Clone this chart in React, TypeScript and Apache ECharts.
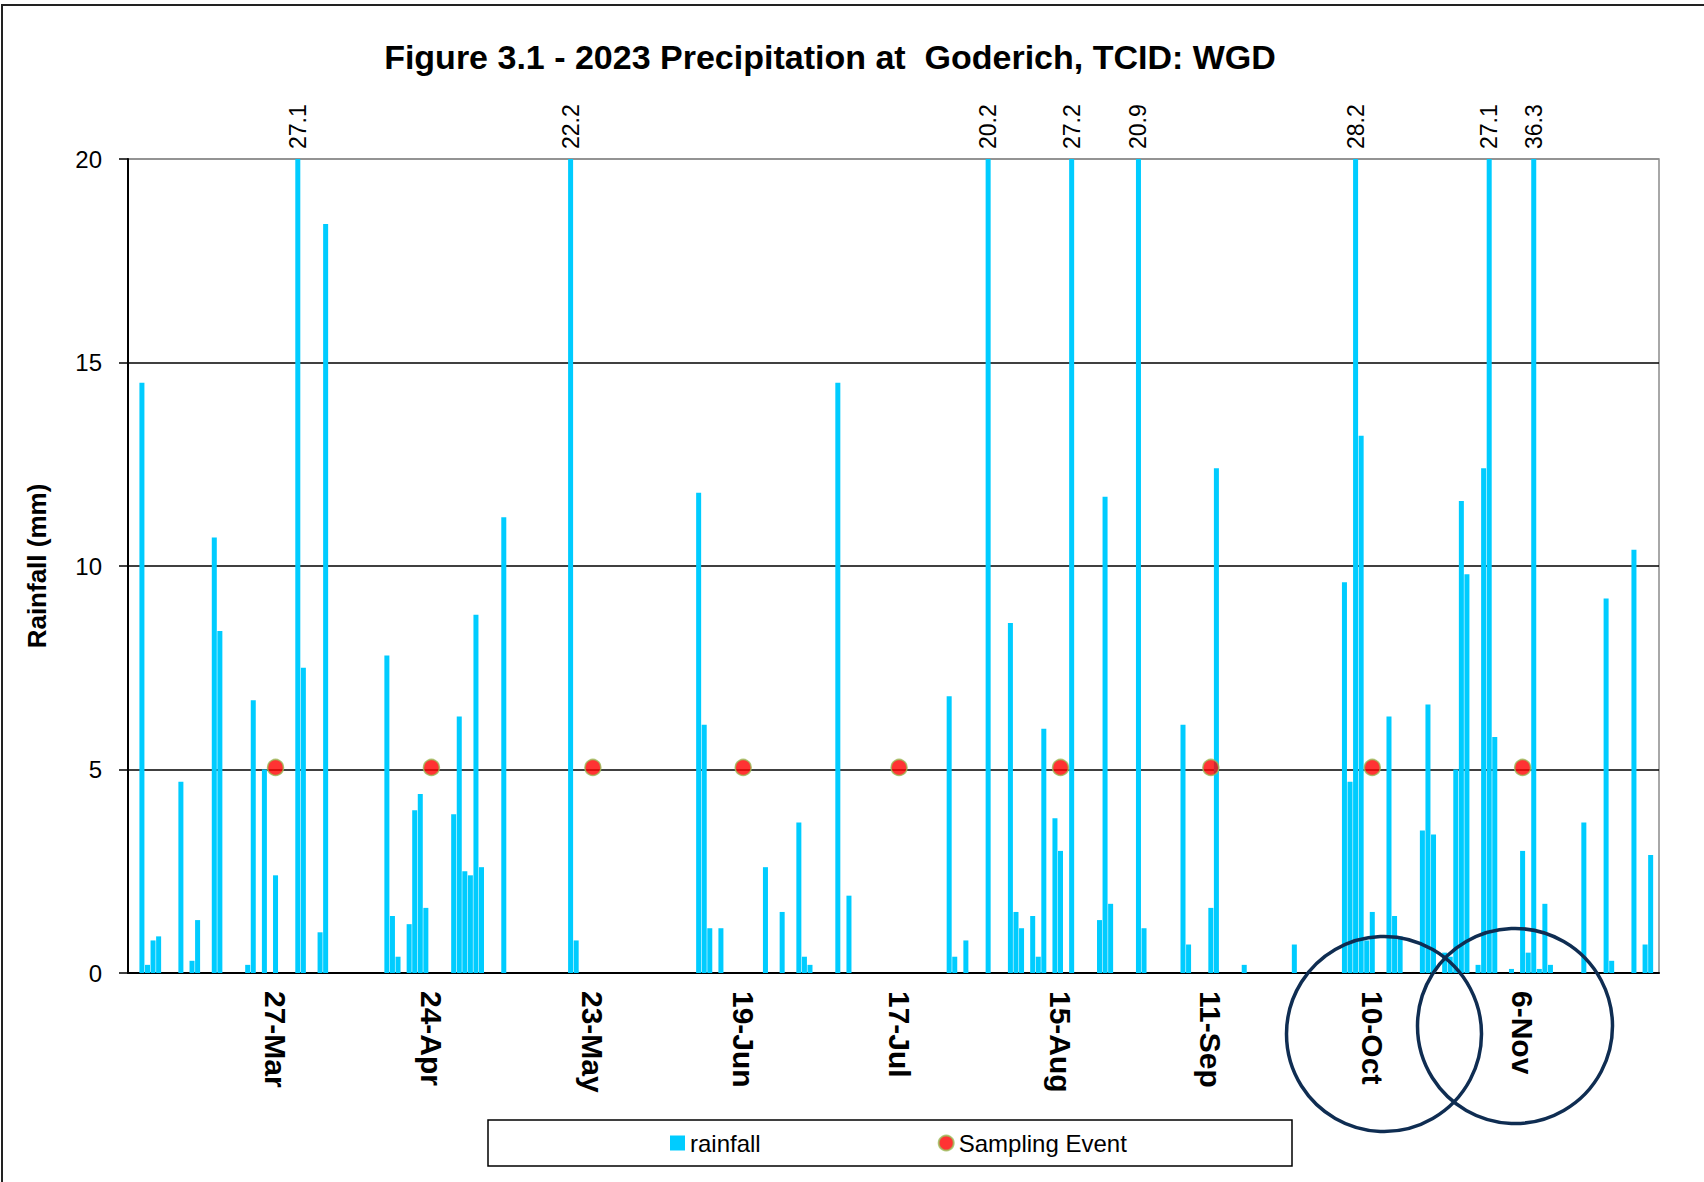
import React, { useEffect, useRef } from 'react';
import * as echarts from 'echarts';

const FONT = '"Liberation Sans", Arial, sans-serif';
const MONTHS = ['Jan', 'Feb', 'Mar', 'Apr', 'May', 'Jun', 'Jul', 'Aug', 'Sep', 'Oct', 'Nov', 'Dec'];

// x-axis categories: every day from 1-Mar-2023 to 30-Nov-2023
const dayCategories: string[] = [];
for (let d = new Date(2023, 2, 1); d <= new Date(2023, 10, 30); d.setDate(d.getDate() + 1)) {
  dayCategories.push(`${d.getDate()}-${MONTHS[d.getMonth()]}`);
}

// days with rainfall (all other days are 0 mm)
const rainDates = [
  '3-Mar', '4-Mar', '5-Mar', '6-Mar', '10-Mar', '12-Mar', '13-Mar', '16-Mar', '17-Mar', '22-Mar',
  '23-Mar', '25-Mar', '27-Mar', '31-Mar', '1-Apr', '4-Apr', '5-Apr', '16-Apr', '17-Apr', '18-Apr',
  '20-Apr', '21-Apr', '22-Apr', '23-Apr', '28-Apr', '29-Apr', '30-Apr', '1-May', '2-May', '3-May',
  '7-May', '19-May', '20-May', '11-Jun', '12-Jun', '13-Jun', '15-Jun', '23-Jun', '26-Jun', '29-Jun',
  '30-Jun', '1-Jul', '6-Jul', '8-Jul', '26-Jul', '27-Jul', '29-Jul', '2-Aug', '6-Aug', '7-Aug',
  '8-Aug', '10-Aug', '11-Aug', '12-Aug', '14-Aug', '15-Aug', '17-Aug', '22-Aug', '23-Aug', '24-Aug',
  '29-Aug', '30-Aug', '6-Sep', '7-Sep', '11-Sep', '12-Sep', '17-Sep', '26-Sep', '5-Oct', '6-Oct',
  '7-Oct', '8-Oct', '9-Oct', '10-Oct', '13-Oct', '14-Oct', '15-Oct', '19-Oct', '20-Oct', '21-Oct',
  '23-Oct', '24-Oct', '25-Oct', '26-Oct', '27-Oct', '29-Oct', '30-Oct', '31-Oct', '1-Nov', '4-Nov',
  '6-Nov', '7-Nov', '8-Nov', '9-Nov', '10-Nov', '11-Nov', '17-Nov', '21-Nov', '22-Nov', '26-Nov',
  '28-Nov', '29-Nov',
];
const rainValues = [
  14.5, 0.2, 0.8, 0.9, 4.7, 0.3, 1.3, 10.7, 8.4, 0.2,
  6.7, 5.0, 2.4, 27.1, 7.5, 1.0, 18.4, 7.8, 1.4, 0.4,
  1.2, 4.0, 4.4, 1.6, 3.9, 6.3, 2.5, 2.4, 8.8, 2.6,
  11.2, 22.2, 0.8, 11.8, 6.1, 1.1, 1.1, 2.6, 1.5, 3.7,
  0.4, 0.2, 14.5, 1.9, 6.8, 0.4, 0.8, 20.2, 8.6, 1.5,
  1.1, 1.4, 0.4, 6.0, 3.8, 3.0, 27.2, 1.3, 11.7, 1.7,
  20.9, 1.1, 6.1, 0.7, 1.6, 12.4, 0.2, 0.7, 9.6, 4.7,
  28.2, 13.2, 0.8, 1.5, 6.3, 1.4, 0.9, 3.5, 6.6, 3.4,
  0.5, 0.4, 5.0, 11.6, 9.8, 0.2, 12.4, 27.1, 5.8, 0.1,
  3.0, 0.5, 36.3, 0.1, 1.7, 0.2, 3.7, 9.2, 0.3, 10.4,
  0.7, 2.9,
];

// sampling events (plotted as markers at ~5 mm)
const samplingDates = ['27-Mar', '24-Apr', '23-May', '19-Jun', '17-Jul', '15-Aug', '11-Sep', '10-Oct', '6-Nov'];
const samplingLevel = 5.05;

// y axis
const yMin = 0;
const yMax = 20;
const yStep = 5;

export default function App() {
  const ref = useRef<HTMLDivElement>(null);

  useEffect(() => {
    if (!ref.current) return;
    const chart = echarts.init(ref.current, undefined, { renderer: 'svg' });

    const barData = dayCategories.map((c) => {
      const k = rainDates.indexOf(c);
      const v = k >= 0 ? rainValues[k] : 0;
      return v > yMax ? { value: v, label: { show: true } } : v;
    });

    chart.setOption({
      animation: false,
      backgroundColor: '#ffffff',
      title: {
        text: 'Figure 3.1 - 2023 Precipitation at  Goderich, TCID: WGD',
        left: 825,
        top: 35,
        textAlign: 'center',
        textStyle: { fontFamily: FONT, fontSize: 34, fontWeight: 'bold', color: '#000' },
      },
      grid: {
        left: 128,
        right: 45,
        top: 159,
        bottom: 209,
        show: true,
        borderColor: '#8c8c8c',
        borderWidth: 1.5,
      },
      legend: {
        left: 665,
        top: 1126,
        itemGap: 177,
        itemWidth: 15,
        itemHeight: 15,
        textStyle: { fontFamily: FONT, fontSize: 24, color: '#000' },
        data: [
          { name: 'rainfall', icon: 'rect' },
          { name: 'Sampling Event', icon: 'circle' },
        ],
      },
      xAxis: {
        type: 'category',
        data: dayCategories,
        boundaryGap: true,
        axisLine: { lineStyle: { color: '#000', width: 2 } },
        axisTick: { show: false },
        splitLine: { show: false },
        axisLabel: {
          interval: (_i: number, v: string) => samplingDates.includes(v),
          rotate: -90,
          margin: 18,
          fontFamily: FONT,
          fontSize: 30,
          fontWeight: 'bold',
          color: '#000',
        },
      },
      yAxis: {
        type: 'value',
        min: yMin,
        max: yMax,
        interval: yStep,
        name: 'Rainfall (mm)',
        nameLocation: 'middle',
        nameGap: 78,
        nameTextStyle: { fontFamily: FONT, fontSize: 26, fontWeight: 'bold', color: '#000' },
        axisLine: { show: true, lineStyle: { color: '#000', width: 2 } },
        axisTick: { show: true, length: 9, lineStyle: { color: '#000', width: 1.5 } },
        axisLabel: { fontFamily: FONT, fontSize: 24, color: '#000', margin: 26 },
        splitLine: {
          show: true,
          lineStyle: { color: ['#000', '#000', '#000', '#000', '#8c8c8c'], width: 1.5 },
        },
      },
      series: [
        {
          name: 'rainfall',
          type: 'bar',
          data: barData,
          barCategoryGap: '10%',
          clip: true,
          itemStyle: { color: '#00ccff' },
          label: {
            show: false,
            position: 'top',
            rotate: 90,
            align: 'left',
            verticalAlign: 'middle',
            distance: 10,
            fontFamily: FONT,
            fontSize: 23,
            color: '#000',
            formatter: (p: any) => String(p.value),
          },
        },
        {
          name: 'Sampling Event',
          type: 'scatter',
          data: samplingDates.map((d) => [d, samplingLevel]),
          symbol: 'circle',
          symbolSize: 16,
          itemStyle: { color: '#ff0000', borderColor: '#9bbb59', borderWidth: 1.5 },
          z: 5,
        },
      ],
      graphic: [
        {
          type: 'rect',
          shape: { x: 2, y: 5, width: 1730, height: 1210 },
          style: { fill: 'none', stroke: '#222', lineWidth: 2 },
          silent: true,
        },
        {
          type: 'rect',
          shape: { x: 488, y: 1120, width: 804, height: 46 },
          style: { fill: 'none', stroke: '#000', lineWidth: 1.5 },
          silent: true,
        },
        {
          type: 'circle',
          shape: { cx: 1384, cy: 1034, r: 97.5 },
          style: { fill: 'none', stroke: '#0f2d52', lineWidth: 3.5 },
          z: 100,
          silent: true,
        },
        {
          type: 'circle',
          shape: { cx: 1515, cy: 1026, r: 97.5 },
          style: { fill: 'none', stroke: '#0f2d52', lineWidth: 3.5 },
          z: 100,
          silent: true,
        },
      ],
    });

    return () => chart.dispose();
  }, []);

  return (
    <div
      ref={ref}
      style={{ position: 'absolute', left: 0, top: 0, width: 1704, height: 1182, background: '#fff' }}
    />
  );
}
